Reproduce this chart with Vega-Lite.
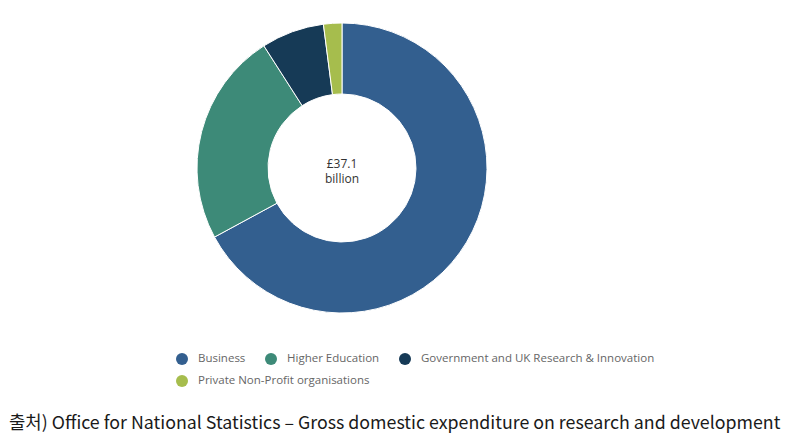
{
  "$schema": "https://vega.github.io/schema/vega-lite/v6.json",
  "width": 684,
  "height": 336,
  "autosize": "none",
  "padding": {"left": 0, "top": 0, "right": 117, "bottom": 103},
  "background": "white",
  "title": {
    "text": "출처) Office for National Statistics – Gross domestic expenditure on research and development",
    "orient": "bottom",
    "anchor": "start",
    "frame": "group",
    "font": "Noto Sans CJK KR",
    "fontSize": 17.8,
    "fontWeight": "normal",
    "color": "#1a1a1a",
    "offset": 28,
    "dx": 9
  },
  "config": {
    "view": {"stroke": null},
    "legend": {
      "title": null,
      "orient": "none",
      "direction": "horizontal",
      "symbolType": "circle",
      "symbolSize": 144,
      "symbolStrokeWidth": 0,
      "labelFont": "Open Sans",
      "labelFontSize": 11.5,
      "labelColor": "#666666",
      "labelOffset": 10,
      "columnPadding": 19,
      "labelLimit": 400
    }
  },
  "datasets": {
    "gerd": [
      {"sector": "Business", "value": 24.9, "order": 1},
      {"sector": "Higher Education", "value": 8.85, "order": 2},
      {"sector": "Government and UK Research & Innovation", "value": 2.6, "order": 3},
      {"sector": "Private Non-Profit organisations", "value": 0.76, "order": 4}
    ]
  },
  "layer": [
    {
      "data": {"name": "gerd"},
      "mark": {"type": "arc", "outerRadius": 145, "innerRadius": 74, "stroke": "white", "strokeWidth": 1},
      "encoding": {
        "theta": {"field": "value", "type": "quantitative", "stack": true},
        "order": {"field": "order", "type": "quantitative"},
        "color": {
          "field": "sector",
          "type": "nominal",
          "scale": {
            "domain": ["Business", "Higher Education", "Government and UK Research & Innovation", "Private Non-Profit organisations"],
            "range": ["#335f8f", "#3d8a78", "#163a56", "#a6bd4d"]
          },
          "legend": {
            "values": ["Business", "Higher Education", "Government and UK Research & Innovation"],
            "legendX": 176,
            "legendY": 353
          }
        }
      }
    },
    {
      "data": {"name": "gerd"},
      "mark": {"type": "arc", "outerRadius": 145, "innerRadius": 74, "stroke": "white", "strokeWidth": 1},
      "encoding": {
        "theta": {"field": "value", "type": "quantitative", "stack": true},
        "order": {"field": "order", "type": "quantitative"},
        "fill": {
          "field": "sector",
          "type": "nominal",
          "scale": {
            "domain": ["Private Non-Profit organisations", "Business", "Higher Education", "Government and UK Research & Innovation"],
            "range": ["#a6bd4d", "#335f8f", "#3d8a78", "#163a56"]
          },
          "legend": {
            "values": ["Private Non-Profit organisations"],
            "legendX": 176,
            "legendY": 375
          }
        }
      }
    },
    {
      "data": {"values": [{"label": "£37.1\nbillion"}]},
      "mark": {"type": "text", "lineBreak": "\n", "font": "Open Sans", "fontSize": 12, "color": "#333333", "lineHeight": 15, "baseline": "middle", "dy": -4.5},
      "encoding": {"text": {"field": "label", "type": "nominal"}}
    }
  ]
}
